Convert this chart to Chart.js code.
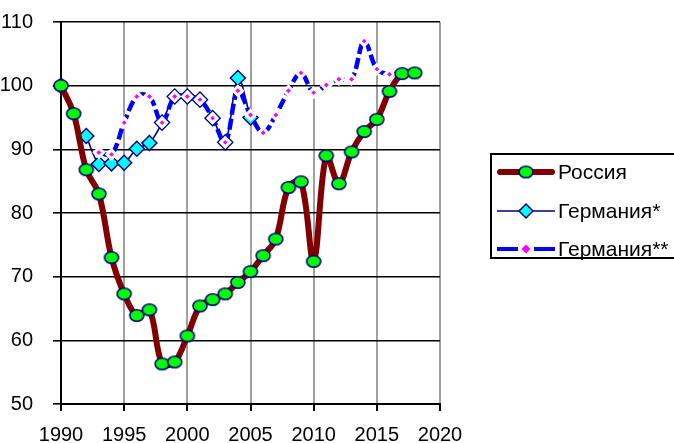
<!DOCTYPE html>
<html>
<head>
<meta charset="utf-8">
<script src="https://cdn.jsdelivr.net/npm/chart.js@4"></script>
<style>
html,body{margin:0;padding:0;background:#fff;overflow:hidden;}
canvas{display:block;}
</style>
</head>
<body>
<canvas id="c" width="674" height="443"></canvas>
<script>
// ---- data ----
const russiaYears = [1990,1991,1992,1993,1994,1995,1996,1997,1998,1999,2000,2001,2002,2003,2004,2005,2006,2007,2008,2009,2010,2011,2012,2013,2014,2015,2016,2017,2018];
const russiaValues = [100,95.6,86.8,83.0,73.0,67.3,63.9,64.8,56.3,56.6,60.7,65.4,66.4,67.3,69.1,70.8,73.3,75.9,84.0,84.9,72.4,89.0,84.6,89.6,92.8,94.7,99.1,101.9,102.0];

const germany1Years = [1990,1991,1992,1993,1994,1995,1996,1997,1998,1999,2000,2001,2002,2003,2004,2005];
const germany1Values = [100,null,92.1,87.7,87.8,87.9,90.1,91.0,94.2,98.3,98.3,97.8,94.9,91.1,101.2,95.0];

const germany2Years = [1993,1994,1995,1996,1997,1998,1999,2000,2001,2002,2003,2004,2005,2006,2007,2008,2009,2010,2011,2012,2013,2014,2015,2016,2017];
const germany2Values = [89.5,89.2,94.2,98.3,98.3,94.2,98.3,98.3,97.8,94.9,91.1,99.2,95.4,92.6,95.4,99.2,102.0,98.9,100.1,101.0,101.0,107.0,102.6,101.8,102.0];

const xTicks = [1990,1995,2000,2005,2010,2015,2020];
const yTicks = [50,60,70,80,90,100,110];

const seriesNames = ['Россия','Германия*','Германия**'];

const FONT = "'Liberation Sans', Arial, sans-serif";

function pts(xs, ys){ return xs.map((x,i)=>({x:x, y:ys[i]})); }

// ellipse marker for Russia
function makeEllipse(){
  const c = document.createElement('canvas');
  c.width = 18; c.height = 15;
  const g = c.getContext('2d');
  g.beginPath();
  g.ellipse(9, 7.5, 7.0, 5.7, 0, 0, Math.PI*2);
  g.fillStyle = '#00ff00';
  g.fill();
  g.lineWidth = 1.6;
  g.strokeStyle = '#000080';
  g.stroke();
  return c;
}
const ellipseImg = makeEllipse();

const legendPlugin = {
  id: 'boxLegend',
  afterDraw(chart){
    const ctx = chart.ctx;
    ctx.save();
    // box
    ctx.lineWidth = 2;
    ctx.strokeStyle = '#000';
    ctx.strokeRect(491, 154, 240, 104);
    const x0 = 497, x1 = 555, xm = 526;
    const rows = [172, 211, 249];
    // Russia
    ctx.lineCap = 'round';
    ctx.strokeStyle = '#800000';
    ctx.lineWidth = 6;
    ctx.beginPath(); ctx.moveTo(x0+3, rows[0]); ctx.lineTo(x1-3, rows[0]); ctx.stroke();
    ctx.drawImage(ellipseImg, xm-9, rows[0]-7.5);
    // Germany*
    ctx.lineCap = 'butt';
    ctx.strokeStyle = '#000080';
    ctx.lineWidth = 1.5;
    ctx.beginPath(); ctx.moveTo(x0, rows[1]); ctx.lineTo(x1, rows[1]); ctx.stroke();
    ctx.beginPath();
    ctx.moveTo(xm-7, rows[1]); ctx.lineTo(xm, rows[1]-7); ctx.lineTo(xm+7, rows[1]); ctx.lineTo(xm, rows[1]+7); ctx.closePath();
    ctx.fillStyle = '#00ffff'; ctx.fill();
    ctx.lineWidth = 1.5; ctx.strokeStyle = '#000080'; ctx.stroke();
    // Germany**
    ctx.strokeStyle = '#0000ff';
    ctx.lineWidth = 4;
    ctx.beginPath(); ctx.moveTo(x0, rows[2]); ctx.lineTo(xm-8, rows[2]); ctx.stroke();
    ctx.beginPath(); ctx.moveTo(xm+8, rows[2]); ctx.lineTo(x1, rows[2]); ctx.stroke();
    ctx.beginPath();
    ctx.moveTo(xm-4.5, rows[2]); ctx.lineTo(xm, rows[2]-4.5); ctx.lineTo(xm+4.5, rows[2]); ctx.lineTo(xm, rows[2]+4.5); ctx.closePath();
    ctx.fillStyle = '#ff00ff'; ctx.fill();
    // text
    ctx.fillStyle = '#000';
    ctx.font = '21px ' + FONT;
    ctx.textBaseline = 'middle';
    ctx.textAlign = 'left';
    seriesNames.forEach((n,i)=>ctx.fillText(n, 558, rows[i]+1));
    ctx.restore();
  }
};

new Chart(document.getElementById('c'), {
  type: 'line',
  data: {
    datasets: [
      {
        label: seriesNames[0],
        data: pts(russiaYears, russiaValues),
        borderColor: '#800000',
        borderWidth: 6,
        tension: 0.35,
        pointStyle: ellipseImg,
        clip: false
      },
      {
        label: seriesNames[2],
        data: pts(germany2Years, germany2Values),
        borderColor: '#0000ff',
        borderWidth: 4.5,
        borderDash: [11,4],
        tension: 0.35,
        pointStyle: 'rectRot',
        pointRadius: 4.5,
        pointBackgroundColor: '#ff00ff',
        pointBorderColor: '#ffffff',
        pointBorderWidth: 3,
        clip: false
      },
      {
        label: seriesNames[1],
        data: pts(germany1Years, germany1Values),
        borderColor: '#000080',
        borderWidth: 1.6,
        tension: 0.35,
        spanGaps: false,
        pointStyle: 'rectRot',
        pointRadius: 7.5,
        pointBackgroundColor: '#00ffff',
        pointBorderColor: '#000080',
        pointBorderWidth: 1.5,
        clip: false
      }
    ]
  },
  options: {
    responsive: false,
    animation: false,
    devicePixelRatio: 1,
    layout: { padding: { left: 0, right: 234, top: 22, bottom: 0 } },
    plugins: { legend: { display: false }, tooltip: { enabled: false } },
    scales: {
      x: {
        type: 'linear',
        min: 1990, max: 2020,
        afterBuildTicks(scale){ scale.ticks = xTicks.map(v=>({value:v})); },
        afterFit(scale){ scale.height = 39; },
        grid: { color: '#a0a0a0', lineWidth: 2, tickColor: '#000', tickLength: 7, drawTicks: true },
        border: { color: '#000', width: 2 },
        ticks: { color: '#000', font: { family: FONT, size: 20 }, padding: 12, maxRotation: 0, callback: v => String(v) }
      },
      y: {
        min: 50, max: 110,
        afterBuildTicks(scale){ scale.ticks = yTicks.map(v=>({value:v})); },
        afterFit(scale){ scale.width = 61; scale.paddingTop = 10; scale.paddingBottom = 10; },
        grid: { color: '#000', lineWidth: 1.6, tickColor: '#000', tickLength: 8 },
        border: { color: '#000', width: 2 },
        ticks: { color: '#000', font: { family: FONT, size: 20 }, padding: 20 }
      }
    }
  },
  plugins: [legendPlugin]
});
</script>
</body>
</html>
